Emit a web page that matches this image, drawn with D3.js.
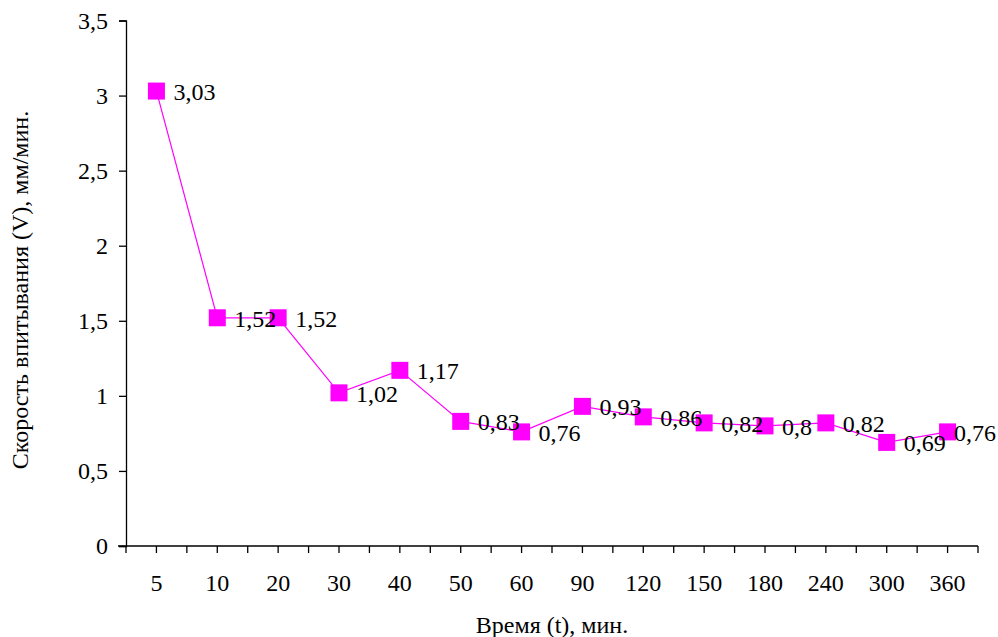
<!DOCTYPE html>
<html>
<head>
<meta charset="utf-8">
<script src="https://cdn.jsdelivr.net/npm/d3@7"></script>
<style>
  body { margin: 0; background: #fff; }
</style>
</head>
<body>
<svg></svg>
<script>
const WIDTH = 998;
const HEIGHT = 637;
const FONT = "Liberation Serif";
const FS = 24;

// Data
const times = ["5", "10", "20", "30", "40", "50", "60", "90", "120", "150", "180", "240", "300", "360"];
const speeds = [3.03, 1.52, 1.52, 1.02, 1.17, 0.83, 0.76, 0.93, 0.86, 0.82, 0.8, 0.82, 0.69, 0.76];
const yTicks = [0, 0.5, 1, 1.5, 2, 2.5, 3, 3.5];
const xTitle = "Время (t), мин.";
const yTitle = "Скорость впитывания (V), мм/мин.";

const fmt = v => String(v).replace(".", ",");
const magenta = "#FF00FF";

const svg = d3.select("svg").attr("width", WIDTH).attr("height", HEIGHT);

const plotLeft = 126, plotRight = 978, plotTop = 20.5, plotBottom = 546;

const x = d3.scaleBand().domain(times).range([plotLeft, plotRight]);
const y = d3.scaleLinear().domain([0, 3.5]).range([plotBottom, plotTop]);

// Y axis
const yAxis = svg.append("g").attr("transform", "translate(" + plotLeft + ",0)")
    .call(d3.axisLeft(y).tickValues(yTicks).tickFormat(fmt).tickSizeInner(7).tickSizeOuter(7).tickPadding(11));
yAxis.attr("font-family", FONT);
yAxis.select(".domain").attr("stroke", "#000").attr("stroke-width", 1.3);
yAxis.selectAll(".tick line").attr("stroke", "#000").attr("stroke-width", 1.3);
yAxis.selectAll(".tick text").attr("font-size", FS).attr("fill", "#000")
    .attr("font-family", FONT);

// X axis: ticks at band edges and centres
const xg = svg.append("g");
xg.append("line")
    .attr("x1", plotLeft - 8).attr("x2", plotRight)
    .attr("y1", plotBottom).attr("y2", plotBottom)
    .attr("stroke", "#000").attr("stroke-width", 1.3);
const bw = x.bandwidth();
const tickPos = [];
for (let i = 0; i <= times.length * 2; i++) tickPos.push(plotLeft + i * bw / 2);
xg.selectAll("line.tk").data(tickPos).enter().append("line")
    .attr("class", "tk")
    .attr("x1", d => d).attr("x2", d => d)
    .attr("y1", plotBottom).attr("y2", plotBottom + 7)
    .attr("stroke", "#000").attr("stroke-width", 1.3);
xg.selectAll("text").data(times).enter().append("text")
    .attr("x", d => x(d) + bw / 2)
    .attr("y", 591)
    .attr("text-anchor", "middle")
    .attr("font-family", FONT)
    .attr("font-size", FS)
    .text(d => d);

// Line
const line = d3.line()
    .x((d, i) => x(times[i]) + bw / 2)
    .y(d => y(d));
svg.append("path").datum(speeds)
    .attr("d", line)
    .attr("fill", "none")
    .attr("stroke", magenta)
    .attr("stroke-width", 1.2);

// Markers
const ms = 17;
svg.selectAll("rect.mk").data(speeds).enter().append("rect")
    .attr("class", "mk")
    .attr("x", (d, i) => x(times[i]) + bw / 2 - ms / 2)
    .attr("y", d => y(d) - ms / 2)
    .attr("width", ms).attr("height", ms)
    .attr("fill", magenta);

// Labels (kept inside the picture, like Excel does)
svg.selectAll("text.lbl").data(speeds).enter().append("text")
    .attr("class", "lbl")
    .attr("x", (d, i) => x(times[i]) + bw / 2 + 17)
    .attr("y", d => y(d) + 9)
    .attr("font-family", FONT)
    .attr("font-size", FS)
    .attr("fill", "#000")
    .text(fmt)
    .each(function () {
        const w = this.getComputedTextLength();
        const x0 = +this.getAttribute("x");
        if (x0 + w > WIDTH - 2) this.setAttribute("x", WIDTH - 2 - w);
    });

// Titles
svg.append("text")
    .attr("x", 552).attr("y", 633)
    .attr("text-anchor", "middle")
    .attr("font-family", FONT)
    .attr("font-size", FS)
    .text(xTitle);
svg.append("text")
    .attr("transform", "translate(28,290) rotate(-90)")
    .attr("text-anchor", "middle")
    .attr("font-family", FONT)
    .attr("font-size", FS)
    .text(yTitle);
</script>
</body>
</html>
